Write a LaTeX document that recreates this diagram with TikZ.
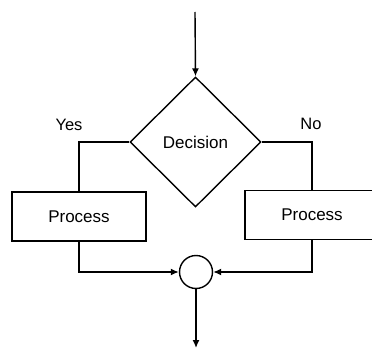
\documentclass[tikz,border=0pt]{standalone}
\usepackage{fontspec}
\setmainfont{Liberation Sans}
\usetikzlibrary{shapes.geometric,arrows.meta}
\begin{document}
\begin{tikzpicture}[x=1pt,y=1pt,line width=1.4pt,
  >={Latex[length=8pt,width=7pt]},
  box/.style={draw,rectangle,minimum width=134pt,minimum height=49pt,font=\fontsize{17}{20}\selectfont},
  dec/.style={draw,diamond,inner sep=0pt,minimum width=131pt,minimum height=130pt,font=\fontsize{17}{20}\selectfont},
  lbl/.style={font=\fontsize{16.5}{20}\selectfont}]
\useasboundingbox (0,0) rectangle (372,349);
\clip (0,0) rectangle (372,349);
\coordinate (start) at (195,337);
\node[dec] (decision) at (195.5,207) {Decision};
\node[box] (procL) at (79,132.5) {Process};
\node[box] (procR) at (312,134) {Process};
\node[draw,circle,minimum size=33pt,inner sep=0pt] (join) at (196,77) {};
\coordinate (end) at (196,1);
\node[lbl] (yes) at (69,224) {Yes};
\node[lbl] (no) at (311,225) {No};
\draw[->] (start) -- (decision.north);
\draw (decision.west) -| (procL.north);
\draw (decision.east) -| (procR.north);
\draw[->] (procL.south) |- (join.west);
\draw[->] (procR.south) |- (join.east);
\draw[->] (join.south) -- (end);
\end{tikzpicture}
\end{document}
